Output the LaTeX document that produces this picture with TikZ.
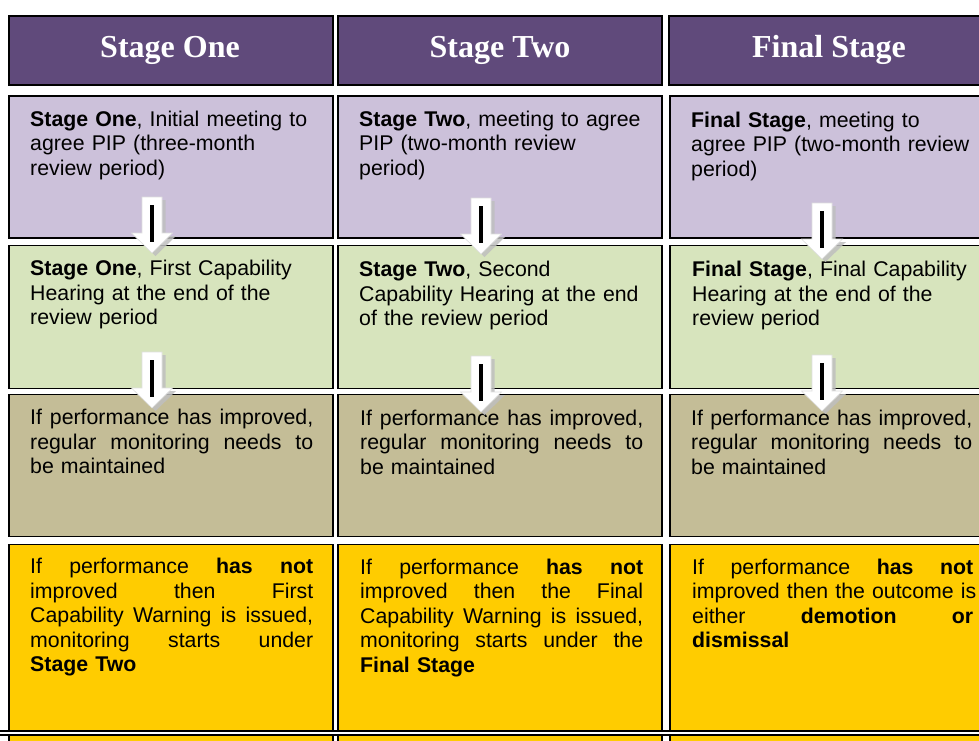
\documentclass[tikz,border=0pt]{standalone}
\usepackage{fontspec}
\setmainfont{Liberation Sans}
\newfontfamily\hdrfont{Liberation Serif}
\definecolor{hdrpurple}{HTML}{604A7B}
\definecolor{lightpurple}{HTML}{CCC1DA}
\definecolor{lightgreen}{HTML}{D7E4BD}
\definecolor{tanfill}{HTML}{C4BD97}
\definecolor{yellowfill}{HTML}{FFCC00}
\newlength\jlwidth
\setlength\jlwidth{283pt}
\newcommand\jl[1]{\leavevmode\hbox to \jlwidth{#1}\\}
\newcommand\gp{ \hfill}
\newcommand\blkarrow[2]{%
  \fill[gray!50,opacity=.85] ({#1-10+3.5},{#2+3}) -- ({#1+10+3.5},{#2+3}) -- ({#1+10+3.5},{#2+36+3}) -- ({#1+20.5+3.5},{#2+36+3}) -- ({#1+3.5},{#2+56+3}) -- ({#1-20.5+3.5},{#2+36+3}) -- ({#1-10+3.5},{#2+36+3}) -- cycle;
  \draw[fill=white,draw=gray!25,line width=.6pt] ({#1-10},{#2}) -- ({#1+10},{#2}) -- ({#1+10},{#2+36}) -- ({#1+20.5},{#2+36}) -- ({#1},{#2+56}) -- ({#1-20.5},{#2+36}) -- ({#1-10},{#2+36}) -- cycle;
  \draw[line width=3.5pt] ({#1},{#2+8}) -- ({#1},{#2+45});
}
\tikzset{
  cell/.style={draw=black,line width=1.5pt,inner sep=0pt,anchor=north west},
  hdrtext/.style={anchor=base,text=white,font={\hdrfont\bfseries\fontsize{32}{36}\selectfont}},
  body/.style={anchor=north west,inner sep=0pt,text width=283pt,align=left,font={\fontsize{21.3}{24.5}\selectfont}}
}
\begin{document}
\begin{tikzpicture}[x=1pt,y=-1pt]
\useasboundingbox (0,0) rectangle (979,740);
\clip (0,0) rectangle (979,740);
\fill[white] (0,0) rectangle (979,740);
% headers
\node[cell,fill=hdrpurple,minimum width=324pt,minimum height=69pt] (h1) at (8,15) {};
\node[cell,fill=hdrpurple,minimum width=324pt,minimum height=69pt] (h2) at (337,15) {};
\node[cell,fill=hdrpurple,minimum width=330pt,minimum height=69pt] (h3) at (668,15) {};
\node[hdrtext] (ht1) at (170,57) {Stage One};
\node[hdrtext] (ht2) at (500,57) {Stage Two};
\node[hdrtext] (ht3) at (829,57) {Final Stage};
% row boxes
\foreach \cx/\cw/\c in {8/324/1,337/324/2,669/330/3}{
  \node[cell,fill=lightpurple,minimum width=\cw pt,minimum height=142pt] (p\c) at (\cx,95) {};
  \node[cell,fill=lightgreen,minimum width=\cw pt,minimum height=143pt] (g\c) at (\cx,244.5) {};
  \node[cell,fill=tanfill,minimum width=\cw pt,minimum height=142pt] (t\c) at (\cx,393.5) {};
  \node[cell,fill=yellowfill,minimum width=\cw pt,minimum height=220pt] (y\c) at (\cx,543.5) {};
}
% texts column 1
\node[body] (pt1) at (30,109) {\strut\textbf{Stage One}, Initial meeting to\\agree PIP (three-month\\review period)};
\node[body] (gt1) at (30,258.5) {\strut\textbf{Stage One}, First Capability\\Hearing at the end of the\\review period};
\node[body] (tt1) at (30,407.5) {\strut\jl{If\gp performance\gp has\gp improved,}\jl{regular\gp monitoring\gp needs\gp to}be maintained};
\node[body] (yt1) at (30,556.5) {\strut\jl{If\gp performance\gp \textbf{has}\gp \textbf{not}}\jl{improved\gp then\gp First}\jl{Capability\gp Warning\gp is\gp issued,}\jl{monitoring\gp starts\gp under}\textbf{Stage Two}};
% texts column 2
\node[body] (pt2) at (359,109) {\strut\textbf{Stage Two}, meeting to agree\\PIP (two-month review\\period)};
\node[body] (gt2) at (359,259.5) {\strut\textbf{Stage Two}, Second\\Capability Hearing at the end\\of the review period};
\node[body] (tt2) at (360,408) {\strut\jl{If\gp performance\gp has\gp improved,}\jl{regular\gp monitoring\gp needs\gp to}be maintained};
\node[body] (yt2) at (360,557) {\strut\jl{If\gp performance\gp \textbf{has}\gp \textbf{not}}\jl{improved\gp then\gp the\gp Final}\jl{Capability\gp Warning\gp is\gp issued,}\jl{monitoring\gp starts\gp under\gp the}\textbf{Final Stage}};
% texts column 3
\setlength\jlwidth{281pt}
\node[body] (pt3) at (691,110) {\strut\textbf{Final Stage}, meeting to\\agree PIP (two-month review\\period)};
\node[body] (gt3) at (692,259.5) {\strut\textbf{Final Stage}, Final Capability\\Hearing at the end of the\\review period};
\node[body] (tt3) at (691,408) {\strut\jl{If\gp performance\gp has\gp improved,}\jl{regular\gp monitoring\gp needs\gp to}be maintained};
\node[body] (yt3) at (692,557) {\strut\jl{If\gp performance\gp \textbf{has}\gp \textbf{not}}\jl{improved\gp then\gp the\gp outcome\gp is}\jl{either\gp \textbf{demotion}\gp \textbf{or}}\textbf{dismissal}};
% block arrows
\blkarrow{152}{197}
\blkarrow{152}{352}
\blkarrow{481}{198}
\blkarrow{481}{356}
\blkarrow{822}{203}
\blkarrow{822}{355}
% bottom double line
\fill[white] (0,730) rectangle (979,735.5);
\draw[line width=2pt] (0,731.3) -- (979,731.3);
\draw[line width=1.4pt] (0,735) -- (979,735);
\end{tikzpicture}
\end{document}
